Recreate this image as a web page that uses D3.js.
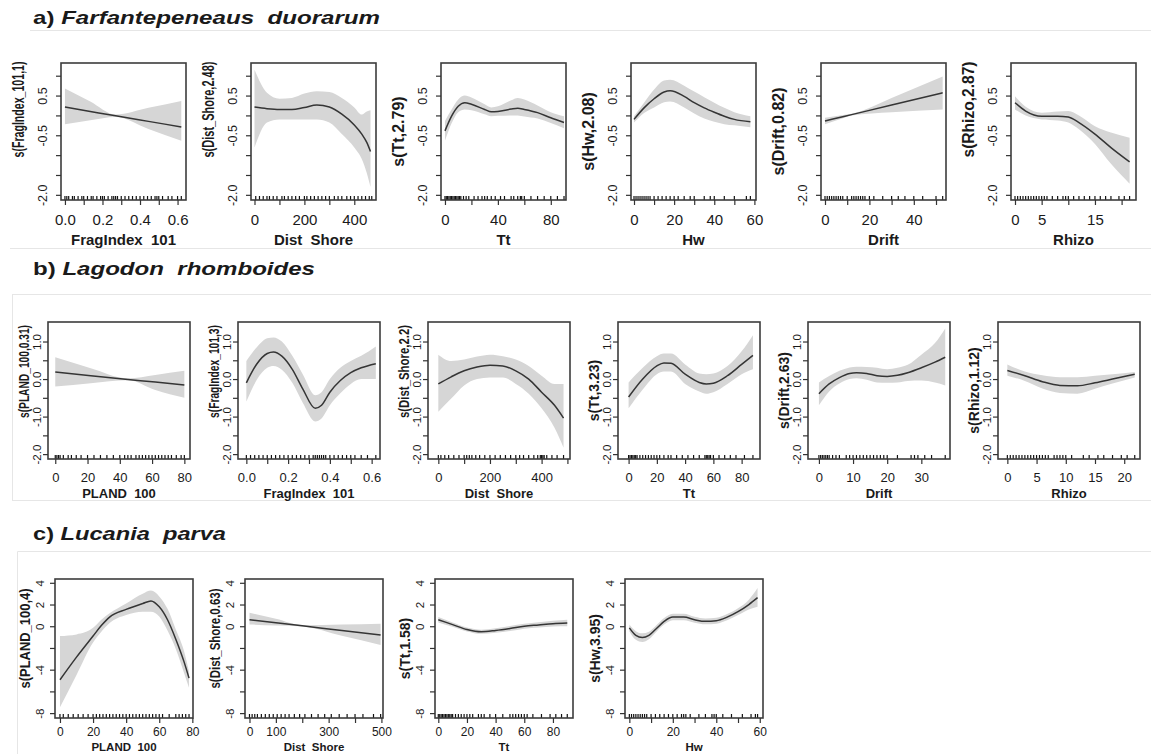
<!DOCTYPE html>
<html><head><meta charset="utf-8">
<script src="https://cdn.jsdelivr.net/npm/d3@7"></script>
<style>
body{margin:0;background:#fff}
text{font-family:"Liberation Sans",Arial,Helvetica,sans-serif;fill:#1a1a1a}
</style>
</head><body>
<svg id="chart" width="1151" height="754"></svg>
<script>
// ---------------- DATA ----------------
const rowTitleLetters = ["a) ", "b) ", "c) "];
const rowSpecies = ["Farfantepeneaus  duorarum", "Lagodon  rhomboides", "Lucania  parva"];

const yDomains = [[-2.13, 1.32], [-2.13, 1.52], [-8.45, 4.35]];
const yTicks = [[-2, -1.5, -1, -0.5, 0, 0.5, 1], [-2, -1.5, -1, -0.5, 0, 0.5, 1], [-8, -6, -4, -2, 0, 2, 4]];
const yTickLabels = [["-2.0", "", "", "-0.5", "", "0.5", ""], ["-2.0", "", "-1.0", "", "0.0", "", "1.0"], ["-8", "", "-4", "", "0", "2", "4"]];

const yTitles = [
  ["s(FragIndex_101,1)", "s(Dist_Shore,2.48)", "s(Tt,2.79)", "s(Hw,2.08)", "s(Drift,0.82)", "s(Rhizo,2.87)"],
  ["s(PLAND_100,0.31)", "s(FragIndex_101,3)", "s(Dist_Shore,2.2)", "s(Tt,3.23)", "s(Drift,2.63)", "s(Rhizo,1.12)"],
  ["s(PLAND_100,4)", "s(Dist_Shore,0.63)", "s(Tt,1.58)", "s(Hw,3.95)"]
];
const xTitles = [
  ["FragIndex  101", "Dist  Shore", "Tt", "Hw", "Drift", "Rhizo"],
  ["PLAND  100", "FragIndex  101", "Dist  Shore", "Tt", "Drift", "Rhizo"],
  ["PLAND  100", "Dist  Shore", "Tt", "Hw"]
];

// --- row a ---
const a1_xDom = [-0.021, 0.645];
const a1_xTicks = [0, 0.1, 0.2, 0.3, 0.4, 0.5, 0.6];
const a1_xLabels = ["0.0", "", "0.2", "", "0.4", "", "0.6"];
const a1_x = [0, 0.135, 0.27, 0.445, 0.62];
const a1_fit = [0.21, 0.10, -0.01, -0.15, -0.29];
const a1_hi = [0.68, 0.35, 0.02, 0.19, 0.36];
const a1_lo = [-0.22, -0.12, -0.04, -0.34, -0.64];
const a1_rug = [0, 0.01, 0.02, 0.04, 0.05, 0.07, 0.09, 0.1, 0.12, 0.14, 0.15, 0.17, 0.19, 0.2, 0.21, 0.23, 0.25, 0.26, 0.27, 0.28, 0.3, 0.32, 0.34, 0.36, 0.38, 0.4, 0.42, 0.44, 0.46, 0.48, 0.49, 0.5, 0.52, 0.55, 0.57, 0.6, 0.62];

const a2_xDom = [-14, 487];
const a2_xTicks = [0, 100, 200, 300, 400];
const a2_xLabels = ["0", "", "200", "", "400"];
const a2_x = [0, 50, 100, 150, 200, 250, 300, 350, 400, 430, 450, 465];
const a2_fit = [0.21, 0.17, 0.15, 0.15, 0.2, 0.26, 0.21, 0.03, -0.24, -0.47, -0.68, -0.91];
const a2_hi = [1.15, 0.57, 0.42, 0.44, 0.55, 0.61, 0.59, 0.44, 0.2, 0.02, 0.1, 0.13];
const a2_lo = [-0.81, -0.18, -0.1, -0.1, -0.1, -0.1, -0.18, -0.47, -0.81, -1.1, -1.45, -1.8];
const a2_rug = [5, 20, 35, 50, 60, 75, 90, 110, 120, 135, 150, 165, 180, 200, 210, 225, 240, 255, 270, 285, 300, 320, 335, 350, 370, 385, 400, 415, 430, 445, 460, 470];

const a3_xDom = [-3, 91.5];
const a3_xTicks = [0, 20, 40, 60, 80];
const a3_xLabels = ["0", "", "40", "", "80"];
const a3_x = [0, 5, 10, 15, 20, 30, 35, 40, 50, 55, 60, 70, 80, 90];
const a3_fit = [-0.39, -0.02, 0.23, 0.32, 0.28, 0.15, 0.09, 0.1, 0.16, 0.18, 0.15, 0.07, -0.06, -0.18];
const a3_hi = [-0.14, 0.15, 0.4, 0.5, 0.45, 0.28, 0.2, 0.23, 0.38, 0.44, 0.4, 0.25, 0.08, -0.02];
const a3_lo = [-0.64, -0.2, 0.08, 0.15, 0.13, 0.03, -0.02, -0.01, 0.0, 0.0, -0.03, -0.08, -0.19, -0.32];
const a3_rug = [0, 1, 2, 3, 4, 5, 6, 7, 8, 9, 10, 11, 12, 14, 16, 18, 22, 25, 28, 30, 32, 35, 38, 42, 45, 50, 52, 55, 57, 58, 60, 65, 70, 75, 80, 85, 90];

const a4_xDom = [-1.5, 60.8];
const a4_xTicks = [0, 10, 20, 30, 40, 50, 60];
const a4_xLabels = ["0", "", "20", "", "40", "", "60"];
const a4_x = [0, 5, 10, 15, 18, 25, 30, 35, 40, 45, 50, 58];
const a4_fit = [-0.1, 0.19, 0.42, 0.59, 0.62, 0.48, 0.32, 0.19, 0.08, -0.02, -0.1, -0.16];
const a4_hi = [-0.02, 0.32, 0.65, 0.88, 0.9, 0.75, 0.6, 0.46, 0.32, 0.19, 0.08, -0.02];
const a4_lo = [-0.18, 0.06, 0.2, 0.33, 0.35, 0.2, 0.05, -0.08, -0.16, -0.22, -0.25, -0.3];
const a4_rug = [0, 1, 2, 3, 4, 5, 6, 7, 8, 10, 12, 14, 16, 18, 20, 22, 25, 28, 30, 35, 38, 40, 45, 50, 56, 58];

const a5_xDom = [-1.8, 54.5];
const a5_xTicks = [0, 10, 20, 30, 40, 50];
const a5_xLabels = ["0", "", "20", "", "40", ""];
const a5_x = [0, 6, 12, 30, 53];
const a5_fit = [-0.14, -0.06, 0.02, 0.26, 0.57];
const a5_hi = [-0.06, -0.01, 0.04, 0.44, 0.98];
const a5_lo = [-0.22, -0.11, 0.0, 0.08, 0.15];
const a5_rug = [0, 1, 2, 3, 4, 5, 6, 7, 8, 10, 12, 13, 14, 15, 16, 17, 18, 20, 22, 26, 30, 33, 36, 40, 44, 50, 53];

const a6_xDom = [-0.75, 22.7];
const a6_xTicks = [0, 5, 10, 15, 20];
const a6_xLabels = ["0", "5", "", "15", ""];
const a6_x = [0, 2, 5, 8, 10, 12, 15, 18, 21.5];
const a6_fit = [0.32, 0.11, -0.02, -0.02, -0.04, -0.18, -0.47, -0.81, -1.17];
const a6_hi = [0.48, 0.22, 0.07, 0.1, 0.11, 0.0, -0.27, -0.43, -0.56];
const a6_lo = [0.15, 0.0, -0.1, -0.13, -0.18, -0.35, -0.72, -1.22, -1.72];
const a6_rug = [0, 0.5, 1, 1.5, 2, 2.5, 3, 3.5, 4, 4.5, 5, 5.5, 6, 7, 8, 9, 9.5, 10, 11, 12, 13, 14, 15, 16, 17, 18, 19.5, 20.5, 21.5];

// --- row b ---
const b1_xDom = [-4.5, 83.5];
const b1_xTicks = [0, 20, 40, 60, 80];
const b1_xLabels = ["0", "20", "40", "60", "80"];
const b1_x = [0, 22, 45, 62, 80];
const b1_fit = [0.19, 0.09, -0.01, -0.08, -0.16];
const b1_hi = [0.58, 0.29, 0.02, 0.11, 0.22];
const b1_lo = [-0.2, -0.11, -0.03, -0.29, -0.5];
const b1_rug = [0, 1, 2, 3, 5, 8, 10, 13, 16, 20, 24, 28, 32, 36, 40, 43, 45, 47, 50, 52, 54, 56, 58, 60, 62, 64, 66, 68, 70, 72, 75, 78, 80];

const b2_xDom = [-0.04, 0.64];
const b2_xTicks = [0, 0.1, 0.2, 0.3, 0.4, 0.5, 0.6];
const b2_xLabels = ["0.0", "", "0.2", "", "0.4", "", "0.6"];
const b2_x = [0, 0.05, 0.1, 0.13, 0.17, 0.22, 0.27, 0.33, 0.36, 0.4, 0.45, 0.5, 0.55, 0.62];
const b2_fit = [-0.1, 0.4, 0.68, 0.72, 0.61, 0.26, -0.26, -0.78, -0.7, -0.35, -0.04, 0.17, 0.3, 0.41];
const b2_hi = [0.48, 0.85, 1.09, 1.11, 1.0, 0.62, 0.13, -0.43, -0.35, 0.0, 0.3, 0.48, 0.62, 0.87];
const b2_lo = [-0.6, -0.02, 0.3, 0.35, 0.25, -0.1, -0.63, -1.13, -1.05, -0.7, -0.38, -0.13, 0.0, 0.0];
const b2_rug = [0, 0.02, 0.04, 0.06, 0.08, 0.1, 0.12, 0.14, 0.16, 0.18, 0.2, 0.22, 0.24, 0.26, 0.28, 0.3, 0.32, 0.33, 0.34, 0.35, 0.36, 0.37, 0.38, 0.4, 0.42, 0.44, 0.46, 0.48, 0.5, 0.52, 0.55, 0.58, 0.62];

const b3_xDom = [-40, 510];
const b3_xTicks = [0, 100, 200, 300, 400, 500];
const b3_xLabels = ["0", "", "200", "", "400", ""];
const b3_x = [0, 50, 100, 150, 200, 250, 300, 350, 400, 450, 485];
const b3_fit = [-0.13, 0.06, 0.22, 0.32, 0.37, 0.35, 0.22, 0.0, -0.35, -0.7, -1.04];
const b3_hi = [0.65, 0.48, 0.52, 0.6, 0.65, 0.61, 0.52, 0.35, 0.09, -0.13, -0.13];
const b3_lo = [-0.87, -0.52, -0.17, 0.0, 0.04, 0.04, -0.13, -0.39, -0.78, -1.3, -1.83];
const b3_rug = [0, 10, 25, 40, 60, 80, 100, 110, 120, 130, 145, 160, 180, 200, 220, 240, 260, 280, 300, 315, 330, 350, 370, 385, 395, 400, 405, 410, 420, 440, 460, 485];

const b4_xDom = [-7.5, 93];
const b4_xTicks = [0, 20, 40, 60, 80];
const b4_xLabels = ["0", "20", "40", "60", "80"];
const b4_x = [0, 10, 20, 25, 30, 40, 50, 55, 60, 70, 80, 88];
const b4_fit = [-0.48, 0.0, 0.35, 0.43, 0.42, 0.13, -0.09, -0.13, -0.11, 0.09, 0.39, 0.63];
const b4_hi = [-0.09, 0.3, 0.61, 0.68, 0.68, 0.39, 0.15, 0.13, 0.15, 0.35, 0.74, 1.17];
const b4_lo = [-0.78, -0.28, 0.13, 0.2, 0.2, -0.13, -0.33, -0.39, -0.35, -0.13, 0.13, 0.26];
const b4_rug = [0, 1, 2, 3, 4, 5, 6, 8, 10, 12, 14, 16, 18, 20, 22, 25, 28, 30, 34, 38, 42, 46, 50, 54, 55, 56, 57, 58, 60, 64, 68, 72, 76, 82, 88];

const b5_xDom = [-3.2, 38.4];
const b5_xTicks = [0, 10, 20, 30];
const b5_xLabels = ["0", "10", "20", "30"];
const b5_x = [0, 3, 6, 9, 11, 14, 17, 20, 23, 26, 30, 34, 37];
const b5_fit = [-0.39, -0.13, 0.04, 0.15, 0.17, 0.15, 0.09, 0.07, 0.1, 0.17, 0.3, 0.45, 0.58];
const b5_hi = [-0.09, 0.08, 0.22, 0.31, 0.33, 0.32, 0.3, 0.26, 0.3, 0.38, 0.65, 0.96, 1.35];
const b5_lo = [-0.7, -0.33, -0.12, 0.0, 0.02, -0.02, -0.09, -0.1, -0.09, -0.05, -0.04, -0.09, -0.17];
const b5_rug = [0, 0.5, 1, 1.5, 2, 2.5, 3, 4, 5, 6, 8, 9, 10, 11, 12, 13, 14, 15, 16, 17, 18, 19, 20, 23, 27, 28, 29, 31, 33, 37];

const b6_xDom = [-1.6, 22.7];
const b6_xTicks = [0, 5, 10, 15, 20];
const b6_xLabels = ["0", "5", "10", "15", "20"];
const b6_x = [0, 3, 6, 9, 12, 15, 18, 21.8];
const b6_fit = [0.23, 0.09, -0.07, -0.17, -0.18, -0.1, 0.0, 0.13];
const b6_hi = [0.39, 0.2, 0.1, 0.05, 0.05, 0.09, 0.13, 0.19];
const b6_lo = [0.09, -0.05, -0.25, -0.37, -0.39, -0.26, -0.12, 0.04];
const b6_rug = [0, 0.5, 1, 1.5, 2, 2.5, 3, 3.5, 4, 4.5, 5, 5.5, 6, 6.5, 7, 8, 8.5, 9, 9.5, 10, 11, 13, 14, 15.5, 16.5, 18, 19.5, 20.5, 21.8];

// --- row c ---
const c1_xDom = [-3, 80.4];
const c1_xTicks = [0, 20, 40, 60, 80];
const c1_xLabels = ["0", "20", "40", "60", "80"];
const c1_x = [0, 10, 20, 25, 30, 40, 50, 55, 60, 65, 70, 75, 78];
const c1_fit = [-4.93, -2.84, -0.9, 0.06, 0.84, 1.55, 2.09, 2.33, 1.79, 0.6, -1.19, -3.28, -4.78];
const c1_hi = [-0.9, -0.75, -0.15, 0.6, 1.19, 2.09, 2.99, 3.28, 2.75, 1.6, -0.3, -2.3, -4.18];
const c1_lo = [-7.46, -4.48, -1.49, -0.5, 0.3, 1.04, 1.34, 1.34, 0.9, -0.4, -2.09, -4.3, -5.67];
const c1_rug = [0, 2, 5, 8, 11, 14, 17, 20, 22, 24, 26, 28, 30, 32, 34, 36, 38, 40, 42, 44, 46, 48, 50, 52, 54, 56, 58, 60, 62, 66, 70, 72, 74, 76, 78];

const c2_xDom = [-17, 506];
const c2_xTicks = [0, 100, 200, 300, 400, 500];
const c2_xLabels = ["0", "100", "", "300", "", "500"];
const c2_x = [0, 100, 200, 350, 497];
const c2_fit = [0.6, 0.32, 0.04, -0.39, -0.8];
const c2_hi = [1.25, 0.68, 0.1, 0.17, 0.24];
const c2_lo = [0.15, 0.065, -0.02, -0.88, -1.73];
const c2_rug = [0, 10, 20, 30, 45, 60, 75, 90, 105, 120, 135, 150, 170, 190, 210, 235, 260, 285, 310, 340, 370, 400, 430, 470, 497];

const c3_xDom = [-2.3, 94];
const c3_xTicks = [0, 20, 40, 60, 80];
const c3_xLabels = ["0", "20", "40", "60", "80"];
const c3_x = [0, 10, 20, 30, 40, 50, 60, 70, 80, 90];
const c3_fit = [0.6, 0.15, -0.3, -0.51, -0.39, -0.21, 0.0, 0.12, 0.24, 0.3];
const c3_hi = [0.85, 0.35, -0.12, -0.32, -0.18, 0.02, 0.22, 0.36, 0.5, 0.6];
const c3_lo = [0.35, -0.05, -0.48, -0.7, -0.6, -0.44, -0.22, -0.12, -0.02, 0.0];
const c3_rug = [0, 1, 2, 3, 4, 5, 6, 7, 8, 9, 10, 12, 14, 16, 18, 20, 22, 24, 28, 30, 32, 36, 40, 45, 50, 52, 54, 56, 58, 60, 62, 66, 72, 78, 82, 86, 90];

const c4_xDom = [-2, 61.5];
const c4_xTicks = [0, 10, 20, 30, 40, 50, 60];
const c4_xLabels = ["0", "", "20", "", "40", "", "60"];
const c4_x = [0, 3, 6, 9, 12, 16, 20, 25, 30, 35, 40, 45, 50, 55, 59];
const c4_fit = [-0.15, -0.84, -1.04, -0.84, -0.3, 0.45, 0.84, 0.84, 0.6, 0.45, 0.51, 0.84, 1.34, 2.0, 2.63];
const c4_hi = [0.15, -0.45, -0.65, -0.5, 0.0, 0.75, 1.15, 1.15, 0.88, 0.72, 0.78, 1.12, 1.65, 2.45, 3.52];
const c4_lo = [-0.45, -1.25, -1.45, -1.2, -0.6, 0.15, 0.55, 0.55, 0.32, 0.18, 0.24, 0.56, 1.03, 1.55, 1.79];
const c4_rug = [0, 1, 2, 3, 4, 5, 6, 7, 8, 10, 12, 14, 16, 18, 20, 22, 24, 25, 26, 28, 32, 35, 38, 39, 40, 43, 47, 52, 56, 58, 59];

// ---------------- LAYOUT ----------------
const rowLayout = [
  {top: 63, bottom: 200, left0: 61, step: 190, width: 125, titleY: 24, xLabOff: 20, xTitleOff: 40, yLabOff: 18, yTitleOff: 43,
   xLabSize: 15, xTitleSize: 15, yLabSize: 12.5, yTitleSize: 16, yTitleMax: 96, yTitleShift: 22},
  {top: 322, bottom: 459, left0: 48, step: 190, width: 142, titleY: 275, xLabOff: 18, xTitleOff: 34, yLabOff: 11, yTitleOff: 24,
   xLabSize: 13, xTitleSize: 13, yLabSize: 11.5, yTitleSize: 14, yTitleMax: 93, yTitleShift: 19},
  {top: 579, bottom: 718, left0: 55, step: 190, width: 138, titleY: 540, xLabOff: 14, xTitleOff: 29, yLabOff: 15, yTitleOff: 30,
   xLabSize: 12, xTitleSize: 11.5, yLabSize: 11.5, yTitleSize: 14, yTitleMax: 100, yTitleShift: 10}
];
const titleLengths = [347, 282, 193];

const panelData = [
  [[a1_xDom, a1_xTicks, a1_xLabels, a1_x, a1_fit, a1_hi, a1_lo, a1_rug],
   [a2_xDom, a2_xTicks, a2_xLabels, a2_x, a2_fit, a2_hi, a2_lo, a2_rug],
   [a3_xDom, a3_xTicks, a3_xLabels, a3_x, a3_fit, a3_hi, a3_lo, a3_rug],
   [a4_xDom, a4_xTicks, a4_xLabels, a4_x, a4_fit, a4_hi, a4_lo, a4_rug],
   [a5_xDom, a5_xTicks, a5_xLabels, a5_x, a5_fit, a5_hi, a5_lo, a5_rug],
   [a6_xDom, a6_xTicks, a6_xLabels, a6_x, a6_fit, a6_hi, a6_lo, a6_rug]],
  [[b1_xDom, b1_xTicks, b1_xLabels, b1_x, b1_fit, b1_hi, b1_lo, b1_rug],
   [b2_xDom, b2_xTicks, b2_xLabels, b2_x, b2_fit, b2_hi, b2_lo, b2_rug],
   [b3_xDom, b3_xTicks, b3_xLabels, b3_x, b3_fit, b3_hi, b3_lo, b3_rug],
   [b4_xDom, b4_xTicks, b4_xLabels, b4_x, b4_fit, b4_hi, b4_lo, b4_rug],
   [b5_xDom, b5_xTicks, b5_xLabels, b5_x, b5_fit, b5_hi, b5_lo, b5_rug],
   [b6_xDom, b6_xTicks, b6_xLabels, b6_x, b6_fit, b6_hi, b6_lo, b6_rug]],
  [[c1_xDom, c1_xTicks, c1_xLabels, c1_x, c1_fit, c1_hi, c1_lo, c1_rug],
   [c2_xDom, c2_xTicks, c2_xLabels, c2_x, c2_fit, c2_hi, c2_lo, c2_rug],
   [c3_xDom, c3_xTicks, c3_xLabels, c3_x, c3_fit, c3_hi, c3_lo, c3_rug],
   [c4_xDom, c4_xTicks, c4_xLabels, c4_x, c4_fit, c4_hi, c4_lo, c4_rug]]
];

// ---------------- DRAW ----------------
const svg = d3.select("#chart");
svg.append("rect").attr("width", 1151).attr("height", 754).attr("fill", "#fff");

// faint frames of the composite figure
const frameCol = "#e6e6e6";
svg.append("line").attr("x1", 30).attr("x2", 1151).attr("y1", 30.5).attr("y2", 30.5).attr("stroke", frameCol);
svg.append("line").attr("x1", 10).attr("x2", 1151).attr("y1", 248.5).attr("y2", 248.5).attr("stroke", frameCol);
svg.append("rect").attr("x", 12.5).attr("y", 294.5).attr("width", 1140).attr("height", 206).attr("fill", "none").attr("stroke", frameCol);
svg.append("path").attr("d", "M17.5,754V551.5H1151").attr("fill", "none").attr("stroke", frameCol);

panelData.forEach((row, r) => {
  const L = rowLayout[r];
  // row title
  const t = svg.append("text").attr("x", 33).attr("y", L.titleY)
    .attr("font-size", 19).attr("font-weight", "bold").style("white-space", "pre")
    .attr("textLength", titleLengths[r]).attr("lengthAdjust", "spacingAndGlyphs");
  t.append("tspan").text(rowTitleLetters[r]);
  t.append("tspan").attr("font-style", "italic").text(rowSpecies[r]);

  const ys = d3.scaleLinear().domain(yDomains[r]).range([L.bottom, L.top]);

  row.forEach((p, c) => {
    const [xDom, xTicks, xLabels, xv, fit, hi, lo, rug] = p;
    const x0 = L.left0 + c * L.step, x1 = x0 + L.width;
    const xs = d3.scaleLinear().domain(xDom).range([x0, x1]);
    const g = svg.append("g");
    const pts = xv.map((v, i) => ({x: v, f: fit[i], hi: hi[i], lo: lo[i]}));

    g.append("path").datum(pts)
      .attr("d", d3.area().x(d => xs(d.x)).y0(d => ys(d.lo)).y1(d => ys(d.hi)).curve(d3.curveMonotoneX))
      .attr("fill", "#d6d6d6");
    g.append("path").datum(pts)
      .attr("d", d3.line().x(d => xs(d.x)).y(d => ys(d.f)).curve(d3.curveMonotoneX))
      .attr("fill", "none").attr("stroke", "#353535").attr("stroke-width", 1.5);

    g.selectAll("line.rug").data(rug).join("line").attr("class", "rug")
      .attr("x1", d => xs(d)).attr("x2", d => xs(d))
      .attr("y1", L.bottom).attr("y2", L.bottom - 4)
      .attr("stroke", "#111").attr("stroke-width", 1.2);

    g.append("rect").attr("x", x0).attr("y", L.top).attr("width", L.width).attr("height", L.bottom - L.top)
      .attr("fill", "none").attr("stroke", "#3c3c3c").attr("stroke-width", 1.6);

    // x axis
    const xa = g.append("g").attr("transform", `translate(0,${L.bottom})`)
      .call(d3.axisBottom(xs).tickValues(xTicks).tickSize(5).tickSizeOuter(0)
        .tickFormat((d, i) => xLabels[i]));
    xa.select(".domain").remove();
    xa.selectAll(".tick line").attr("stroke", "#333").attr("stroke-width", 1.2);
    xa.selectAll(".tick text").attr("y", L.xLabOff).attr("dy", "0.35em")
      .attr("font-size", L.xLabSize).attr("fill", "#222").style("font-family", '"Liberation Sans",Arial,sans-serif');

    // y axis
    const ya = g.append("g").attr("transform", `translate(${x0},0)`)
      .call(d3.axisLeft(ys).tickValues(yTicks[r]).tickSize(5).tickSizeOuter(0)
        .tickFormat((d, i) => yTickLabels[r][i]));
    ya.select(".domain").remove();
    ya.selectAll(".tick line").attr("stroke", "#333").attr("stroke-width", 1.2);
    ya.selectAll(".tick text").attr("transform", "rotate(-90)")
      .attr("x", 0).attr("y", -L.yLabOff).attr("dy", "0.35em").attr("text-anchor", "middle")
      .attr("font-size", L.yLabSize).attr("fill", "#222").style("font-family", '"Liberation Sans",Arial,sans-serif');

    // x title
    g.append("text").attr("x", (x0 + x1) / 2).attr("y", L.bottom + L.xTitleOff).attr("dy", "0.35em")
      .attr("text-anchor", "middle").attr("font-weight", "bold").attr("font-size", L.xTitleSize)
      .style("white-space", "pre").text(xTitles[r][c]);

    // y title
    let cy = (L.top + L.bottom) / 2;
    const cx = x0 - L.yTitleOff;
    const yt = g.append("text").attr("dy", "0.35em").attr("text-anchor", "middle").attr("font-weight", "bold")
      .attr("font-size", L.yTitleSize).text(yTitles[r][c]);
    const len = yt.node().getComputedTextLength();
    if (len > L.yTitleMax) {
      yt.attr("textLength", L.yTitleMax).attr("lengthAdjust", "spacingAndGlyphs");
      cy -= L.yTitleShift;
    }
    yt.attr("transform", `translate(${cx},${cy}) rotate(-90)`);
  });
});
</script>
</body></html>
